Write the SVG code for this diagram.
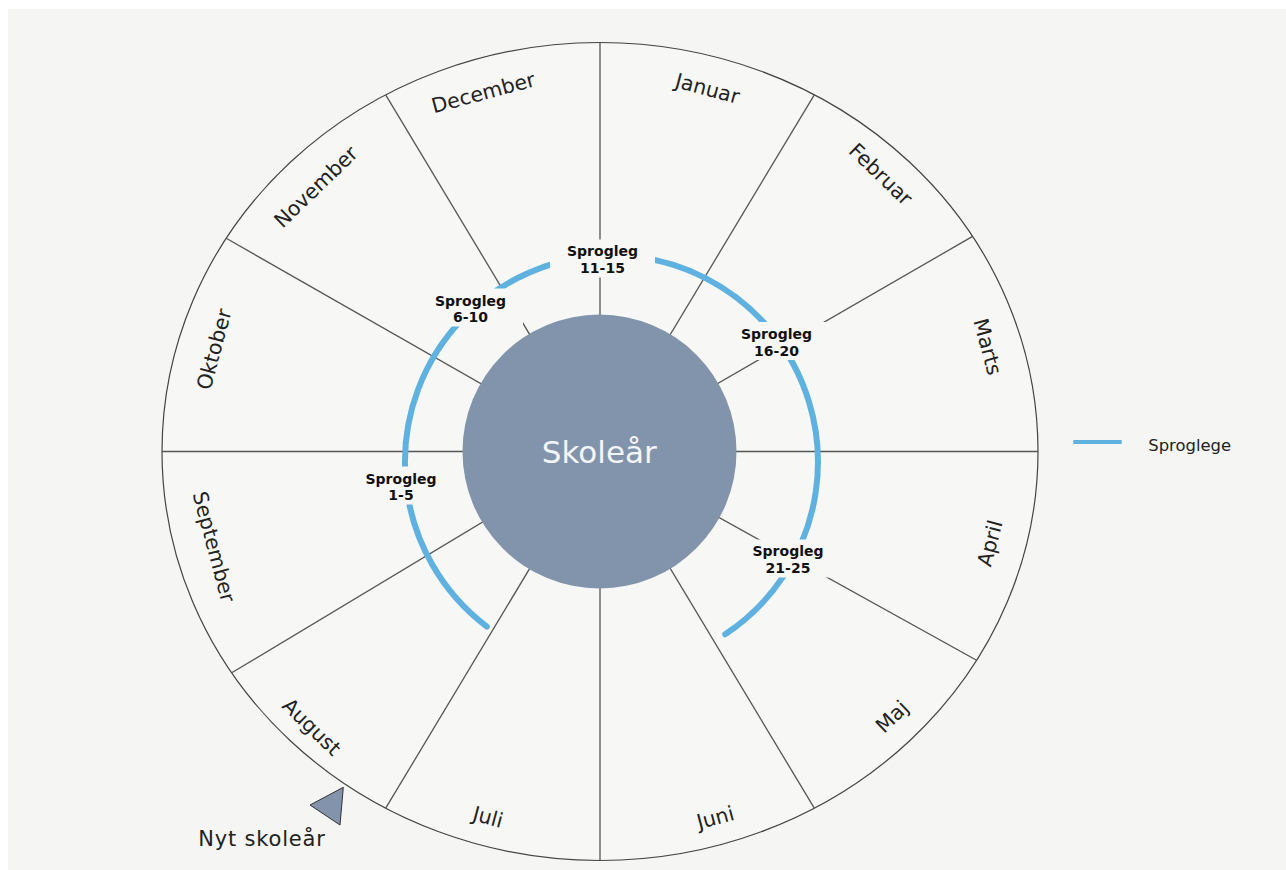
<svg xmlns="http://www.w3.org/2000/svg" width="1286" height="870" viewBox="0 0 1286 870">
<defs>
<style>
.month{font-family:"DejaVu Sans","Liberation Sans",sans-serif;font-size:20.5px;fill:#222;text-anchor:middle}
.div{stroke:#555;stroke-width:1.3;fill:none}
.lblbg{fill:#f7f7f5;stroke:none}
.lbl{font-family:"DejaVu Sans","Liberation Sans",sans-serif;font-size:14px;font-weight:bold;fill:#111;text-anchor:middle}
.blue{stroke:#5fb1e0;fill:none}
</style>
</defs>
<rect x="0" y="0" width="1286" height="870" fill="#ffffff"/>
<rect id="panel" x="8" y="9" width="1278" height="861" fill="#f5f5f3"/>
<g id="wheel">
<ellipse cx="600" cy="451.5" rx="438" ry="409" fill="#f7f7f5" stroke="#444" stroke-width="1.2"/>
</g>
<g id="connectors">
<line class="div" x1="600" y1="451.5" x2="600" y2="42.5"/>
<line class="div" x1="600" y1="451.5" x2="814.3" y2="94.8"/>
<line class="div" x1="600" y1="451.5" x2="972.6" y2="236.4"/>
<line class="div" x1="600" y1="451.5" x2="1038" y2="451.5"/>
<line class="div" x1="600" y1="451.5" x2="976.6" y2="660.3"/>
<line class="div" x1="600" y1="451.5" x2="814.3" y2="808.2"/>
<line class="div" x1="600" y1="451.5" x2="600" y2="860.5"/>
<line class="div" x1="600" y1="451.5" x2="385.7" y2="808.2"/>
<line class="div" x1="600" y1="451.5" x2="231.7" y2="672.8"/>
<line class="div" x1="600" y1="451.5" x2="162" y2="451.5"/>
<line class="div" x1="600" y1="451.5" x2="226.2" y2="238.3"/>
<line class="div" x1="600" y1="451.5" x2="385.7" y2="94.8"/>
<path id="sprog-arc" class="blue" stroke-width="6" stroke-linecap="round" d="M 486.8 626.6 A 206.5 206.5 0 1 1 725.2 634.3"/>
</g>
<g id="months">
<text class="month" transform="translate(707.5,88.5) rotate(15)" y="7.2">Januar</text>
<text class="month" transform="translate(880.8,174.2) rotate(44)" y="7.2">Februar</text>
<text class="month" transform="translate(987.7,346.7) rotate(75)" y="7.2">Marts</text>
<text class="month" transform="translate(989.8,543.3) rotate(-75)" y="7.2">April</text>
<text class="month" transform="translate(892,716.7) rotate(-44)" y="7.2">Maj</text>
<text class="month" transform="translate(715.3,817.5) rotate(-15)" y="7.2">Juni</text>
<text class="month" transform="translate(488,817) rotate(15)" y="7.2">Juli</text>
<text class="month" transform="translate(311.7,726.7) rotate(44)" y="7.2">August</text>
<text class="month" transform="translate(214,546.7) rotate(75)" y="7.2">September</text>
<text class="month" transform="translate(214,349.2) rotate(-75)" y="7.2">Oktober</text>
<text class="month" transform="translate(315.8,186.7) rotate(-44)" y="7.2">November</text>
<text class="month" transform="translate(483.3,92.5) rotate(-15)" y="7.2">December</text>
</g>
<g id="label-11-15">
<rect class="lblbg" x="550" y="239.5" width="105" height="38"/>
<text class="lbl" x="602.5" y="256">Sprogleg</text>
<text class="lbl" x="602.5" y="272.7">11-15</text>
</g>
<g id="label-6-10">
<rect class="lblbg" x="418" y="288.5" width="105" height="38"/>
<text class="lbl" x="470.5" y="305.5">Sprogleg</text>
<text class="lbl" x="470.5" y="322.2">6-10</text>
</g>
<g id="label-16-20">
<rect class="lblbg" x="724" y="322" width="105" height="38"/>
<text class="lbl" x="776.5" y="339">Sprogleg</text>
<text class="lbl" x="776.5" y="355.7">16-20</text>
</g>
<g id="label-21-25">
<rect class="lblbg" x="735.5" y="539.5" width="105" height="38"/>
<text class="lbl" x="788" y="556">Sprogleg</text>
<text class="lbl" x="788" y="572.7">21-25</text>
</g>
<g id="label-1-5">
<rect class="lblbg" x="348.5" y="466.5" width="105" height="38"/>
<text class="lbl" x="401" y="483.5">Sprogleg</text>
<text class="lbl" x="401" y="500">1-5</text>
</g>
<g id="center">
<circle cx="599.5" cy="451.5" r="137" fill="#8294ac"/>
<text x="599.3" y="463.3" font-family="DejaVu Sans, Liberation Sans, sans-serif" font-size="31" fill="#f3f5f8" text-anchor="middle">Skoleår</text>
</g>
<g id="start-marker">
<polygon points="310,805 343.3,787.3 340,825" fill="#8293ab" stroke="#333" stroke-width="1"/>
<text x="198.3" y="846" font-family="DejaVu Sans, Liberation Sans, sans-serif" font-size="21" fill="#222" textLength="126.5" lengthAdjust="spacing">Nyt skoleår</text>
</g>
<g id="legend">
<line class="blue" x1="1073.3" y1="442" x2="1121.7" y2="442" stroke-width="4"/>
<text x="1148.3" y="450.7" font-family="DejaVu Sans, Liberation Sans, sans-serif" font-size="16.4" fill="#222">Sproglege</text>
</g>
</svg>
